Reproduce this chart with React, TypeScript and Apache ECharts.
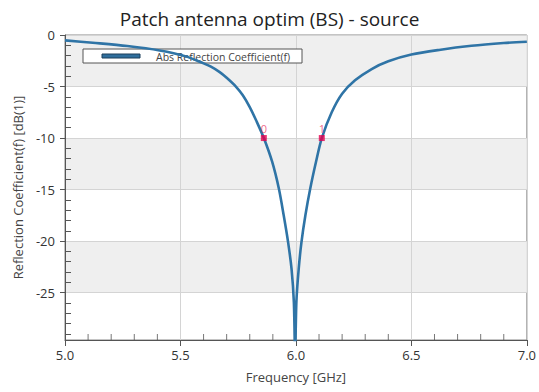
import React, { useEffect, useRef } from "react";
import * as echarts from "echarts";

const freq = [
  5.0, 5.12, 5.27, 5.41, 5.52, 5.6, 5.63, 5.67, 5.7, 5.74, 5.77, 5.8, 5.83, 5.861,
  5.897, 5.926, 5.947, 5.966, 5.981, 5.991, 5.9965,
  6.002, 6.012, 6.024, 6.041, 6.062, 6.087, 6.112, 6.155, 6.2, 6.256, 6.328,
  6.4, 6.5, 6.62, 6.76, 6.9, 7.0,
];
const refl = [
  -0.52, -0.75, -1.07, -1.5, -2.05, -2.75, -3.05, -3.6, -4.15, -5.0, -5.85, -7.0, -8.4, -10.0,
  -12.3, -14.9, -17.5, -20.1, -22.7, -25.9, -31.0,
  -25.9, -22.7, -20.1, -17.5, -14.9, -12.3, -10.0, -7.5, -5.7, -4.4, -3.3,
  -2.55, -1.9, -1.45, -1.05, -0.78, -0.65,
];
const markerFreq = [5.861, 6.112];
const markerVal = [-10.0, -10.0];
const markerNames = ["0", "1"];
const Y_MIN = -29.6;
const yMinorTicks = [
  -29, -28, -27, -26, -24, -23, -22, -21, -19, -18, -17, -16, -14, -13, -12, -11,
  -9, -8, -7, -6, -4, -3, -2, -1,
];
const xMinorTicks = [
  5.1, 5.2, 5.3, 5.4, 5.6, 5.7, 5.8, 5.9, 6.1, 6.2, 6.3, 6.4, 6.6, 6.7, 6.8, 6.9,
];

const FONT = "'Open Sans', 'Noto Sans', sans-serif";

export default function App() {
  const ref = useRef<HTMLDivElement>(null);
  useEffect(() => {
    if (!ref.current) return;
    const chart = echarts.init(ref.current, null, { renderer: "svg" });
    const axisColor = "#555";
    chart.setOption({
      animation: false,
      backgroundColor: "#fff",
      textStyle: { fontFamily: FONT },
      title: {
        text: "Patch antenna optim (BS) - source",
        left: "center",
        top: 4,
        textStyle: { fontSize: 19, fontWeight: "normal", color: "#222", fontFamily: FONT },
      },
      grid: {
        left: 65,
        right: 10,
        top: 35,
        bottom: 52,
        show: true,
        borderColor: "#888",
        borderWidth: 1,
        backgroundColor: "transparent",
      },
      xAxis: [
        {
          type: "value",
          min: 5,
          max: 7,
          interval: 0.5,
          position: "bottom",
          name: "Frequency [GHz]",
          nameLocation: "middle",
          nameGap: 30,
          nameTextStyle: { fontSize: 13, color: "#444", fontFamily: FONT },
          axisLine: { show: true, onZero: false, lineStyle: { color: axisColor, width: 1 } },
          axisTick: { show: true, length: 6, lineStyle: { color: axisColor } },
          axisLabel: {
            fontSize: 13,
            color: "#333",
            margin: 8,
            formatter: (v: number) => v.toFixed(1),
            fontFamily: FONT,
          },
          splitLine: { show: true, lineStyle: { color: "#d4d4d4", width: 1 } },
        },
      ],
      yAxis: [
        {
          type: "value",
          min: Y_MIN,
          max: 0,
          position: "left",
          name: "Reflection Coefficient(f) [dB(1)]",
          nameLocation: "middle",
          nameGap: 41,
          nameTextStyle: { fontSize: 13, color: "#444", fontFamily: FONT },
          axisLine: { show: true, onZero: false, lineStyle: { color: axisColor, width: 1 } },
          axisTick: { show: true, length: 5, lineStyle: { color: axisColor } },
          axisLabel: {
            fontSize: 13,
            color: "#333",
            margin: 10,
            showMinLabel: false,
            fontFamily: FONT,
          },
          splitLine: { show: true, lineStyle: { color: "#d4d4d4", width: 1 } },
          splitArea: {
            show: true,
            areaStyle: { color: ["rgba(255,255,255,0)", "#efefef"] },
          },
        },
        {
          type: "value",
          min: Y_MIN,
          max: 0,
          position: "left",
          z: 4,
          axisLine: { show: false, onZero: false },
          axisTick: {
            show: true,
            inside: true,
            length: 6,
            customValues: yMinorTicks,
            lineStyle: { color: axisColor },
          },
          axisLabel: { show: false },
          splitLine: { show: false },
        },
      ],
      graphic: [
        {
          type: "group",
          z: 1,
          children: [
            {
              type: "rect",
              shape: { x: 83, y: 49, width: 219, height: 14 },
              style: { fill: "#fff", stroke: "#555", lineWidth: 1 },
              z: 1,
            },
            {
              type: "rect",
              shape: { x: 102, y: 54, width: 38, height: 4 },
              style: { fill: "#2f6e9c", stroke: "#1d3f5a", lineWidth: 1 },
              z: 1,
            },
            {
              type: "text",
              x: 156,
              y: 56.5,
              style: {
                text: "Abs Reflection Coefficient(f)",
                fontSize: 10.5,
                fill: "#444",
                fontFamily: FONT,
                verticalAlign: "middle",
              },
              z: 1,
            },
          ],
        },
      ],
      series: [
        {
          type: "scatter",
          name: "xMinorTicks",
          data: xMinorTicks.map((v) => [v, Y_MIN]),
          symbol: "rect",
          symbolSize: [1, 6],
          symbolOffset: [0, -3],
          silent: true,
          clip: false,
          z: 4,
          itemStyle: { color: axisColor },
        },
        {
          type: "line",
          name: "Abs Reflection Coefficient(f)",
          data: freq.map((f, i) => [f, refl[i]]),
          showSymbol: false,
          smooth: 0.3,
          clip: true,
          z: 5,
          lineStyle: { color: "#2f74a6", width: 2.6 },
        },
        {
          type: "scatter",
          data: markerFreq.map((f, i) => ({ value: [f, markerVal[i]], name: markerNames[i] })),
          symbol: "rect",
          symbolSize: 6,
          z: 6,
          itemStyle: { color: "#e3004f" },
          label: {
            show: true,
            position: "top",
            distance: 1,
            formatter: (p: any) => p.name,
            color: "#ec3f6e",
            fontSize: 11,
            fontFamily: FONT,
          },
        },
      ],
    });
    return () => chart.dispose();
  }, []);
  return (
    <div
      ref={ref}
      style={{ position: "fixed", left: 0, top: 0, width: 539, height: 392 }}
    />
  );
}
